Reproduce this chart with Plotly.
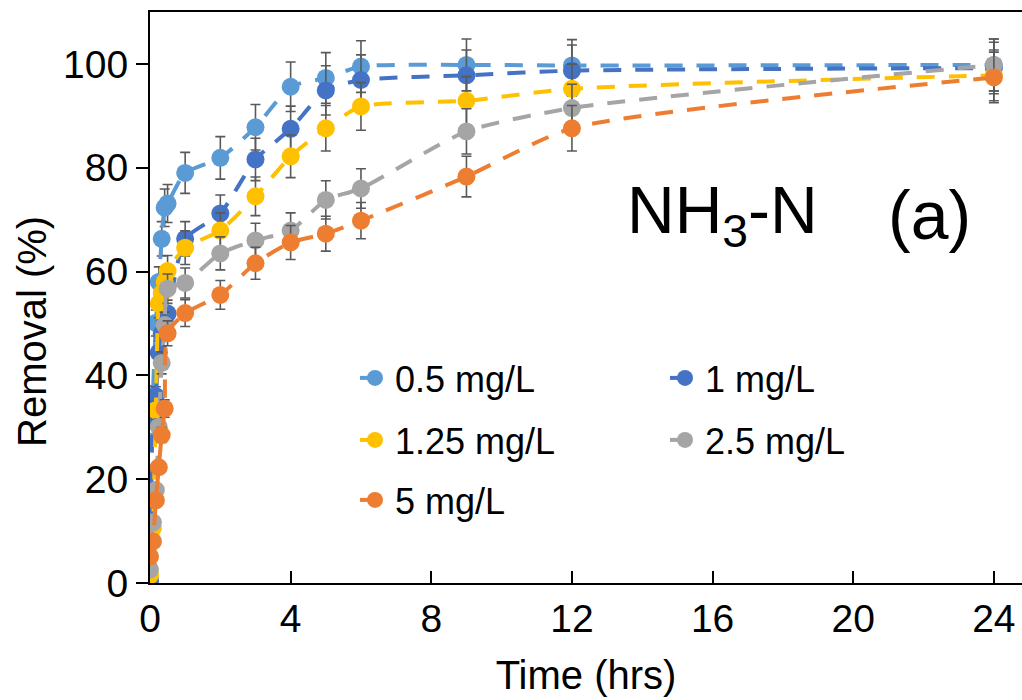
import plotly.graph_objects as go

# Sampling times (hours): 5-minute steps for the first half hour, then hourly / longer
time_h = [0, 0.083, 0.167, 0.25, 0.333, 0.417, 0.5, 1, 2, 3, 4, 5, 6, 9, 12, 24]

series_names = ["0.5 mg/L", "1 mg/L", "1.25 mg/L", "2.5 mg/L", "5 mg/L"]

# NH3-N removal (%) for each initial dose
removal_05 = [0.8, 36.2, 50.1, 58.0, 66.3, 72.3, 73.1, 79.0, 81.9, 87.8, 95.6, 97.3, 99.5, 99.8, 99.7, 99.8]
removal_1 = [0.4, 31.7, 36.0, 44.4, 48.0, 50.5, 51.9, 66.3, 71.2, 81.6, 87.5, 94.9, 96.9, 97.8, 98.7, 99.2]
removal_125 = [1.5, 10.6, 33.3, 53.8, 55.8, 58.0, 60.1, 64.6, 67.9, 74.5, 82.2, 87.6, 91.8, 92.9, 95.2, 97.8]
removal_25 = [2.6, 11.7, 17.9, 30.1, 42.4, 49.7, 56.7, 57.8, 63.5, 66.0, 67.9, 73.8, 76.0, 87.0, 91.5, 99.8]
removal_5 = [5.1, 8.0, 15.9, 22.3, 28.5, 33.6, 48.1, 52.0, 55.5, 61.6, 65.6, 67.3, 69.8, 78.3, 87.6, 97.4]

error_pct = 5  # percentage error bars

x_ticks = [0, 4, 8, 12, 16, 20, 24]
y_ticks = [0, 20, 40, 60, 80, 100]

series_values = [removal_05, removal_1, removal_125, removal_25, removal_5]
colors = ["#5B9BD5", "#4472C4", "#FFC000", "#A5A5A5", "#ED7D31"]

FONT = "Liberation Sans, Arial, sans-serif"

# plot-area geometry in pixels (used to place legends / labels in paper coords)
W, H = 1022, 700
L, T, R, B = 150, 12, 1022, 583


def px_to_paper(px, py):
    return (px - L) / (R - L), (B - py) / (B - T)


# legend anchor pixels (left edge of item, vertical centre of row)
legend_pos = [(355, 378), (665, 378), (355, 440), (665, 440), (355, 500)]

fig = go.Figure()
legend_layouts = {}
for i, (name, vals, col) in enumerate(zip(series_names, series_values, colors)):
    lg = "legend" if i == 0 else f"legend{i + 1}"
    fig.add_trace(go.Scatter(
        x=time_h, y=vals, name=name, mode="lines+markers",
        line=dict(color=col, width=4, dash="18px,14px", shape="spline", smoothing=0.6),
        marker=dict(color=col, size=18, symbol="circle"),
        error_y=dict(type="percent", value=error_pct, color="#595959",
                     thickness=1.6, width=5),
        legend=lg,
    ))
    lx, ly = px_to_paper(*legend_pos[i])
    legend_layouts[lg] = dict(
        x=lx, y=ly, xanchor="left", yanchor="middle",
        bgcolor="rgba(0,0,0,0)", borderwidth=0,
        font=dict(family=FONT, size=36, color="#000000"),
    )

fig.update_layout(
    width=W, height=H,
    margin=dict(l=L, r=W - R, t=T, b=H - B),
    paper_bgcolor="white", plot_bgcolor="white",
    showlegend=True,
    font=dict(family=FONT, color="#000000"),
    **legend_layouts,
)

fig.update_xaxes(
    range=[0, 24.8], tickvals=x_ticks, ticktext=[str(v) for v in x_ticks],
    ticks="inside", ticklen=12, tickwidth=2, tickcolor="#000000",
    showline=True, linecolor="#000000", linewidth=2, mirror=True,
    showgrid=False, zeroline=False,
    tickfont=dict(family=FONT, size=39, color="#000000"),
    title=dict(text="Time (hrs)", font=dict(family=FONT, size=40, color="#000000"), standoff=22),
)
fig.update_yaxes(
    range=[0, 110], tickvals=y_ticks, ticktext=[str(v) for v in y_ticks],
    ticks="outside", ticklen=12, tickwidth=2, tickcolor="#000000",
    showline=True, linecolor="#000000", linewidth=2,
    showgrid=False, zeroline=False,
    tickfont=dict(family=FONT, size=39, color="#000000"),
)

# vertical axis title
tx, ty = px_to_paper(32, 332)
fig.add_annotation(x=tx, y=ty, xref="paper", yref="paper", xanchor="center", yanchor="middle",
                   text="Removal (%)", textangle=-90, showarrow=False,
                   font=dict(family=FONT, size=40, color="#000000"))

ax, ay = px_to_paper(625, 215)
fig.add_annotation(x=ax, y=ay, xref="paper", yref="paper", xanchor="left", yanchor="middle",
                   text="NH<sub>3</sub>-N", showarrow=False,
                   font=dict(family=FONT, size=66, color="#000000"))
ax, ay = px_to_paper(886, 215)
fig.add_annotation(x=ax, y=ay, xref="paper", yref="paper", xanchor="left", yanchor="middle",
                   text="(a)", showarrow=False,
                   font=dict(family=FONT, size=68, color="#000000"))

fig.write_html("out.html")
